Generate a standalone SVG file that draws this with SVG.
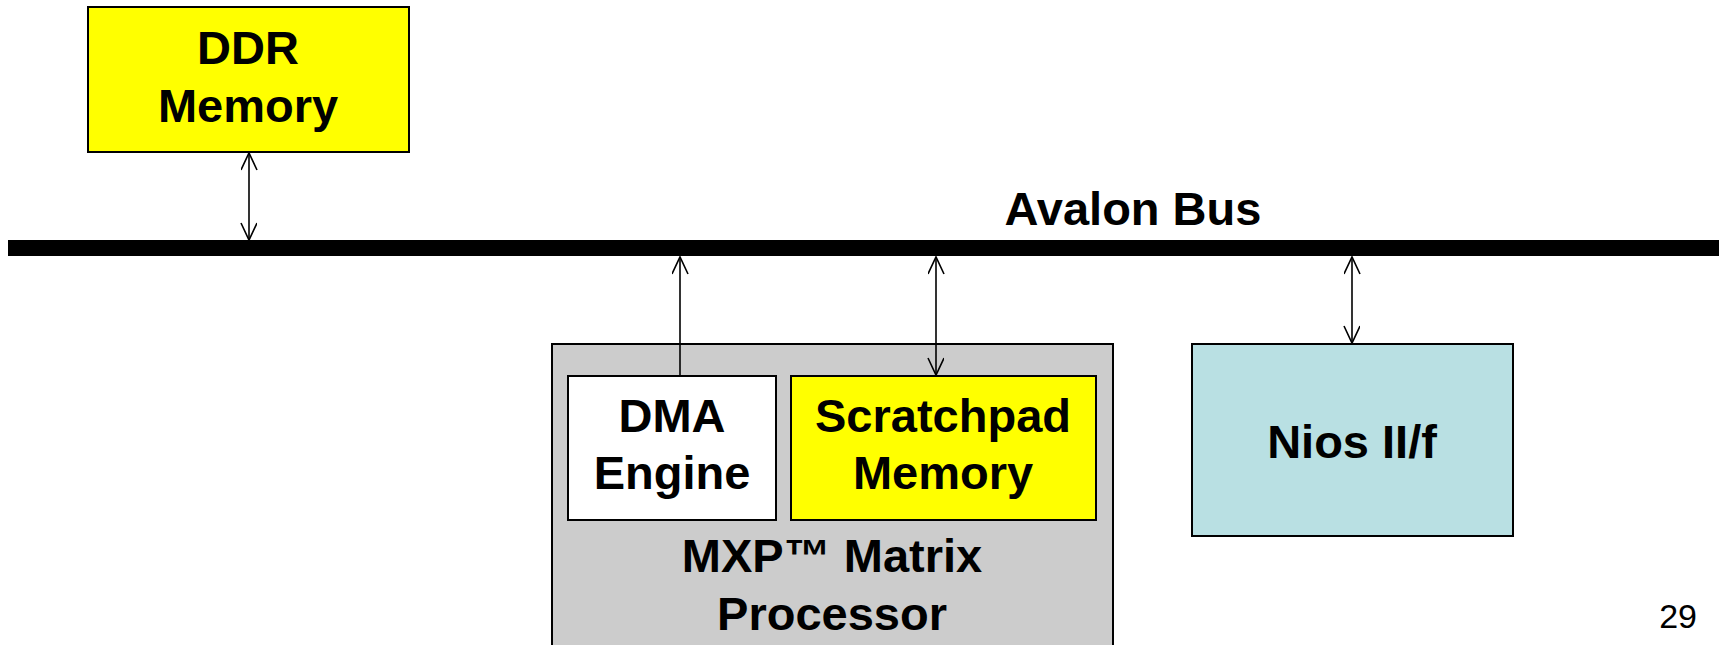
<svg xmlns="http://www.w3.org/2000/svg" width="1719" height="645" viewBox="0 0 1719 645">
<style>
.box{stroke:#000;stroke-width:2}
.t{font-family:"Liberation Sans",Arial,sans-serif;font-weight:bold;fill:#000;text-anchor:middle;font-size:47px}
.conn{stroke:#000;stroke-width:1.6;fill:none}
</style>
<defs>
<marker id="ah" markerUnits="userSpaceOnUse" markerWidth="20" markerHeight="20" refX="18" refY="8" orient="auto-start-reverse">
<path d="M1,0 L18,8 L1,16" fill="none" stroke="#000" stroke-width="1.6"/>
</marker>
</defs>
<rect x="0" y="0" width="1719" height="645" fill="#fff"/>
<g id="bus">
<rect x="8" y="240" width="1711" height="16" fill="#000"/>
<text class="t" x="1133" y="225">Avalon Bus</text>
</g>
<g id="ddr">
<rect class="box" x="88" y="7" width="321" height="145" fill="#FFFF00"/>
<text class="t" x="248" y="64">DDR</text>
<text class="t" x="248" y="122">Memory</text>
</g>
<g id="mxp">
<rect class="box" x="552" y="344" width="561" height="310" fill="#CCCCCC"/>
<text class="t" x="832" y="572">MXP™ Matrix</text>
<text class="t" x="832" y="630">Processor</text>
</g>
<g id="dma">
<rect class="box" x="568" y="376" width="208" height="144" fill="#FFFFFF"/>
<text class="t" x="672" y="432">DMA</text>
<text class="t" x="672" y="489">Engine</text>
</g>
<g id="scratchpad">
<rect class="box" x="791" y="376" width="305" height="144" fill="#FFFF00"/>
<text class="t" x="943" y="432">Scratchpad</text>
<text class="t" x="943" y="489">Memory</text>
</g>
<g id="nios">
<rect class="box" x="1192" y="344" width="321" height="192" fill="#B9E0E3"/>
<text class="t" x="1352" y="458">Nios II/f</text>
</g>
<g id="connectors">
<line class="conn" x1="249" y1="153" x2="249" y2="240" marker-start="url(#ah)" marker-end="url(#ah)"/>
<line class="conn" x1="680" y1="375" x2="680" y2="257" marker-end="url(#ah)"/>
<line class="conn" x1="936" y1="257" x2="936" y2="375" marker-start="url(#ah)" marker-end="url(#ah)"/>
<line class="conn" x1="1352" y1="257" x2="1352" y2="343" marker-start="url(#ah)" marker-end="url(#ah)"/>
</g>
<text x="1697" y="628" font-family="'Liberation Sans',Arial,sans-serif" font-size="34" text-anchor="end" fill="#000">29</text>
</svg>
